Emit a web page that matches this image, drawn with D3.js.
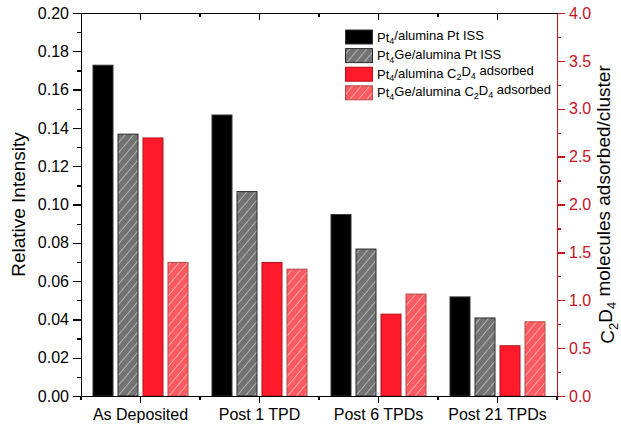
<!DOCTYPE html>
<html>
<head>
  <meta charset="utf-8">
  <title>Pt ISS and C2D4 adsorption</title>
  <script src="https://d3js.org/d3.v7.min.js"></script>
  <style>
    body { margin: 0; background: #fff; }
    svg { font-family: "Liberation Sans", Arial, sans-serif; }
    .axis path, .axis line { stroke-width: 1.3; shape-rendering: crispEdges; }
    .axis text { font-size: 16px; fill: #000; }
    .axis.right path, .axis.right line { stroke: #c8101e; }
    .axis.right text { fill: #c8101e; }
    .title { font-size: 19px; fill: #000; }
    .legend text { font-size: 13px; fill: #000; }
  </style>
</head>
<body>
  <div id="chart"></div>
  <script>
    var categories = ["As Deposited", "Post 1 TPD", "Post 6 TPDs", "Post 21 TPDs"];
    // left axis (relative intensity)
    var pt4Iss   = [0.173, 0.147, 0.095, 0.052];
    var pt4geIss = [0.137, 0.107, 0.077, 0.041];
    // right axis (C2D4 per cluster)
    var pt4C2d4   = [2.70, 1.40, 0.86, 0.53];
    var pt4geC2d4 = [1.40, 1.33, 1.07, 0.78];

    var leftTicks = [0, 0.02, 0.04, 0.06, 0.08, 0.10, 0.12, 0.14, 0.16, 0.18, 0.20];
    var rightTicks = [0, 0.5, 1.0, 1.5, 2.0, 2.5, 3.0, 3.5, 4.0];

    var series = [
      {name: "pt4Iss", values: pt4Iss, axis: "left", fill: "#000000", stroke: "#333333", hatch: null,
       label: [["Pt", 0], ["4", 1], ["/alumina Pt ISS", 0]]},
      {name: "pt4geIss", values: pt4geIss, axis: "left", fill: "#737373", stroke: "#2a2a2a", hatch: "#dcdcdc",
       label: [["Pt", 0], ["4", 1], ["Ge/alumina Pt ISS", 0]]},
      {name: "pt4C2d4", values: pt4C2d4, axis: "right", fill: "#ff1a2b", stroke: "#b0101a", hatch: null,
       label: [["Pt", 0], ["4", 1], ["/alumina C", 0], ["2", 1], ["D", 0], ["4", 1], [" adsorbed", 0]]},
      {name: "pt4geC2d4", values: pt4geC2d4, axis: "right", fill: "#ff5a5f", stroke: "#b04a4e", hatch: "#ffdcdc",
       label: [["Pt", 0], ["4", 1], ["Ge/alumina C", 0], ["2", 1], ["D", 0], ["4", 1], [" adsorbed", 0]]}
    ];

    var W = 621, H = 424;
    var m = {left: 81, right: 557, top: 13, bottom: 396};

    var svg = d3.select("#chart").append("svg")
      .attr("width", W).attr("height", H);

    var defs = svg.append("defs");
    series.filter(s => s.hatch).forEach(function(s) {
      var p = defs.append("pattern")
        .attr("id", "hatch-" + s.name)
        .attr("patternUnits", "userSpaceOnUse")
        .attr("width", 6.5).attr("height", 6.5)
        .attr("patternTransform", "rotate(40)");
      p.append("rect").attr("width", 6.5).attr("height", 6.5).attr("fill", s.fill);
      p.append("line").attr("x1", 0).attr("y1", 0).attr("x2", 0).attr("y2", 6.5)
        .attr("stroke", s.hatch).attr("stroke-width", 1.2);
    });
    function fillOf(s) { return s.hatch ? "url(#hatch-" + s.name + ")" : s.fill; }

    var x = d3.scaleBand().domain(categories).range([m.left, m.right]).padding(0);
    var xs = d3.scaleBand().domain(series.map(s => s.name)).range([0, x.bandwidth()])
      .paddingInner(0.16).paddingOuter(0.46);
    var yL = d3.scaleLinear().domain([0, 0.2]).range([m.bottom, m.top]);
    var yR = d3.scaleLinear().domain([0, 4]).range([m.bottom, m.top]);

    // bars
    series.forEach(function(s) {
      var y = s.axis === "left" ? yL : yR;
      svg.append("g").selectAll("rect")
        .data(categories.map((c, i) => ({c: c, v: s.values[i]})))
        .enter().append("rect")
        .attr("x", d => x(d.c) + xs(s.name) + 0.5)
        .attr("y", d => y(d.v) + 0.5)
        .attr("width", xs.bandwidth() - 1)
        .attr("height", d => m.bottom - y(d.v) - 0.5)
        .attr("fill", fillOf(s))
        .attr("stroke", s.stroke)
        .attr("stroke-width", 1);
    });

    // minor tick positions
    var leftMinor = d3.range(0, 10).map(i => 0.01 + i * 0.02);
    var rightMinor = d3.range(0, 8).map(i => 0.25 + i * 0.5);
    var bounds = categories.map(c => x(c)).concat([x.range()[1]]);

    // left axis
    svg.append("g").attr("class", "axis")
      .attr("transform", "translate(" + m.left + ",0)")
      .call(d3.axisLeft(yL).tickValues(leftTicks).tickSize(8).tickPadding(4)
        .tickFormat(d3.format(".2f")));
    svg.append("g").attr("class", "axis")
      .attr("transform", "translate(" + m.left + ",0)")
      .call(d3.axisLeft(yL).tickValues(leftMinor).tickSize(4).tickFormat(""))
      .select(".domain").remove();

    // right axis
    svg.append("g").attr("class", "axis right")
      .attr("transform", "translate(" + m.right + ",0)")
      .call(d3.axisRight(yR).tickValues(rightTicks).tickSize(8).tickPadding(4)
        .tickFormat(d3.format(".1f")));
    svg.append("g").attr("class", "axis right")
      .attr("transform", "translate(" + m.right + ",0)")
      .call(d3.axisRight(yR).tickValues(rightMinor).tickSize(4).tickFormat(""))
      .select(".domain").remove();

    // bottom axis
    svg.append("g").attr("class", "axis")
      .attr("transform", "translate(0," + m.bottom + ")")
      .call(d3.axisBottom(x).tickSize(7).tickPadding(6).tickSizeOuter(0));
    svg.append("g").attr("class", "axis")
      .selectAll("line").data(bounds).enter().append("line")
      .attr("x1", d => d).attr("x2", d => d)
      .attr("y1", m.bottom).attr("y2", m.bottom + 4)
      .attr("stroke", "#000");

    // top axis, inward ticks
    svg.append("g").attr("class", "axis")
      .attr("transform", "translate(0," + m.top + ")")
      .call(d3.axisTop(x).tickSize(-7).tickSizeOuter(0).tickFormat(""));
    svg.append("g").attr("class", "axis")
      .selectAll("line").data(bounds.slice(1, -1)).enter().append("line")
      .attr("x1", d => d).attr("x2", d => d)
      .attr("y1", m.top).attr("y2", m.top + 4)
      .attr("stroke", "#000");

    // axis titles
    svg.append("text").attr("class", "title")
      .attr("transform", "translate(18," + (m.top + m.bottom) / 2 + ") rotate(-90)")
      .attr("text-anchor", "middle").attr("dy", "0.35em")
      .text("Relative Intensity");

    var rt = svg.append("text").attr("class", "title")
      .attr("transform", "translate(607," + (m.top + m.bottom) / 2 + ") rotate(-90)")
      .attr("text-anchor", "middle").attr("dy", "0.35em");
    [["C", 0], ["2", 1], ["D", 0], ["4", 1], [" molecules adsorbed/cluster", 0]].forEach(function(p, i, arr) {
      var prevSub = i > 0 && arr[i - 1][1];
      rt.append("tspan")
        .attr("dy", p[1] ? "0.3em" : (prevSub ? "-0.3em" : null))
        .style("font-size", p[1] ? "13px" : null)
        .text(p[0]);
    });

    // legend
    var lg = svg.append("g").attr("class", "legend");
    series.forEach(function(s, i) {
      var cy = 37 + i * 18.6;
      lg.append("rect")
        .attr("x", 345.5).attr("y", cy - 7).attr("width", 27).attr("height", 14)
        .attr("fill", fillOf(s)).attr("stroke", s.stroke);
      var t = lg.append("text").attr("x", 377).attr("y", cy).attr("dy", "0.35em");
      s.label.forEach(function(p, j, arr) {
        var prevSub = j > 0 && arr[j - 1][1];
        t.append("tspan")
          .attr("dy", p[1] ? "0.3em" : (prevSub ? "-0.3em" : null))
          .style("font-size", p[1] ? "9px" : null)
          .text(p[0]);
      });
    });
  </script>
</body>
</html>
